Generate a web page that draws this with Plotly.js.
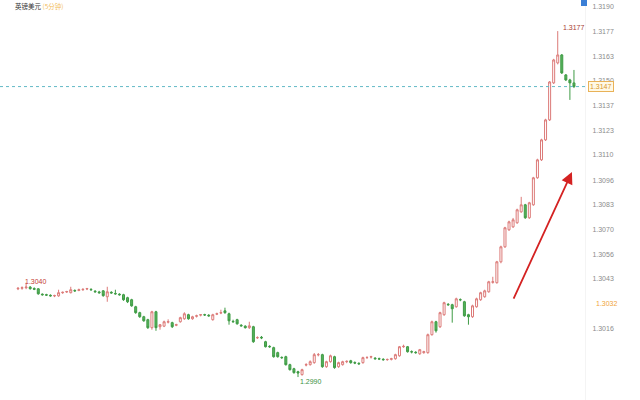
<!DOCTYPE html>
<html>
<head>
<meta charset="utf-8">
<script src="https://cdn.plot.ly/plotly-3.0.1.min.js"></script>
<style>html,body{margin:0;padding:0;background:#fff;}#chart{width:640px;height:400px;}</style>
</head>
<body>
<div id="chart"></div>
<script>
// OHLC values (GBP/USD short-interval candles)
const openVals = [1.30377,1.30380,1.30383,1.30386,1.30378,1.30377,1.30348,1.30345,1.30342,1.30339,
1.30339,1.30356,1.30360,1.30356,1.30368,1.30368,1.30372,1.30376,1.30374,1.30364,
1.30360,1.30366,1.30334,1.30358,1.30352,1.30348,1.30345,1.30329,1.30318,1.30280,
1.30248,1.30226,1.30210,
1.30167,1.30253,1.30172,1.30175,1.30197,1.30194,1.30180,1.30199,1.30215,1.30237,
1.30215,1.30229,1.30235,1.30237,1.30234,1.30210,1.30240,1.30246,1.30258,1.30242,
1.30201,1.30210,1.30180,1.30175,1.30167,1.30172,1.30113,1.30115,1.30091,1.30066,
1.30059,1.30032,1.30006,1.30010,1.29967,1.29945,1.29929,1.29913,
1.29965,1.29967,1.29978,1.30021,1.30021,1.29956,1.29983,1.30010,1.29956,1.29967,
1.29983,1.29988,1.29978,1.29974,1.29978,1.30005,1.30008,1.30002,1.29999,1.29996,
1.29994,1.29996,1.29999,1.30015,1.30064,1.30064,1.30037,1.30034,1.30026,1.30032,
1.30032,1.30129,1.30199,1.30172,1.30237,1.30293,1.30291,1.30280,1.30318,1.30307,
1.30237,1.30226,1.30280,1.30318,1.30334,1.30361,1.30412,1.30410,1.30523,1.30604,
1.30696,1.30712,1.30734,1.30793,1.30831,1.30761,1.30831,1.30977,1.31074,1.31182,
1.31290,1.31490,1.31598,1.31641,1.31533,1.31506,1.31490];

const highVals = [1.30385,1.30390,1.30410,1.30392,1.30385,1.30380,1.30352,1.30350,1.30347,1.30345,
1.30372,1.30362,1.30366,1.30388,1.30374,1.30378,1.30380,1.30382,1.30380,1.30370,
1.30366,1.30370,1.30388,1.30364,1.30372,1.30353,1.30350,1.30334,1.30323,1.30285,
1.30253,1.30231,1.30215,
1.30258,1.30258,1.30186,1.30205,1.30212,1.30199,1.30188,1.30226,1.30250,1.30242,
1.30231,1.30237,1.30240,1.30242,1.30240,1.30242,1.30248,1.30264,1.30275,1.30248,
1.30210,1.30215,1.30186,1.30180,1.30199,1.30177,1.30120,1.30122,1.30096,1.30072,
1.30064,1.30037,1.30012,1.30015,1.29972,1.29950,1.29934,1.29945,
1.29975,1.29990,1.30030,1.30030,1.30026,1.29988,1.30021,1.30015,1.29983,1.29988,
1.29990,1.29993,1.29985,1.29980,1.30010,1.30012,1.30015,1.30008,1.30005,1.30002,
1.30000,1.30004,1.30026,1.30068,1.30075,1.30068,1.30044,1.30040,1.30052,1.30042,
1.30135,1.30205,1.30204,1.30253,1.30307,1.30300,1.30296,1.30329,1.30325,1.30312,
1.30242,1.30291,1.30329,1.30361,1.30372,1.30420,1.30442,1.30528,1.30610,1.30712,
1.30745,1.30760,1.30810,1.30874,1.30836,1.30847,1.30982,1.31080,1.31188,1.31296,
1.31500,1.31620,1.31770,1.31646,1.31538,1.31512,1.31560];

const lowVals = [1.30370,1.30372,1.30375,1.30372,1.30370,1.30345,1.30340,1.30338,1.30335,1.30332,
1.30334,1.30350,1.30355,1.30352,1.30360,1.30364,1.30366,1.30370,1.30366,1.30356,
1.30350,1.30334,1.30307,1.30350,1.30345,1.30340,1.30312,1.30300,1.30280,1.30242,
1.30220,1.30199,1.30160,
1.30156,1.30150,1.30156,1.30170,1.30190,1.30165,1.30175,1.30194,1.30210,1.30210,
1.30210,1.30222,1.30228,1.30230,1.30226,1.30205,1.30235,1.30240,1.30242,1.30183,
1.30194,1.30183,1.30172,1.30162,1.30160,1.30085,1.30106,1.30105,1.30060,1.30058,
1.30005,1.30005,1.29998,1.29962,1.29935,1.29918,1.29900,1.29908,
1.29958,1.29962,1.29972,1.30012,1.29950,1.29950,1.29978,1.29945,1.29950,1.29962,
1.29975,1.29972,1.29970,1.29965,1.29972,1.29998,1.30000,1.29994,1.29992,1.29988,
1.29988,1.29990,1.29994,1.30010,1.30058,1.30032,1.30028,1.30026,1.30020,1.30026,
1.30026,1.30124,1.30140,1.30165,1.30231,1.30285,1.30194,1.30275,1.30310,1.30226,
1.30183,1.30220,1.30275,1.30312,1.30329,1.30356,1.30405,1.30405,1.30515,1.30598,
1.30690,1.30706,1.30728,1.30788,1.30755,1.30755,1.30826,1.30972,1.31068,1.31176,
1.31284,1.31484,1.31590,1.31538,1.31500,1.31398,1.31462];

const closeVals = [1.30380,1.30383,1.30386,1.30378,1.30375,1.30350,1.30345,1.30343,1.30339,1.30340,
1.30356,1.30358,1.30362,1.30372,1.30366,1.30372,1.30374,1.30378,1.30372,1.30361,
1.30356,1.30340,1.30361,1.30355,1.30350,1.30345,1.30318,1.30307,1.30285,1.30248,
1.30226,1.30204,1.30167,
1.30253,1.30167,1.30183,1.30199,1.30199,1.30172,1.30183,1.30221,1.30242,1.30215,
1.30226,1.30231,1.30237,1.30236,1.30231,1.30237,1.30242,1.30248,1.30248,1.30204,
1.30199,1.30188,1.30177,1.30167,1.30177,1.30091,1.30113,1.30112,1.30064,1.30064,
1.30010,1.30010,1.30005,1.29967,1.29940,1.29924,1.29922,1.29940,
1.29967,1.29983,1.30021,1.30021,1.29956,1.29983,1.30015,1.29951,1.29978,1.29983,
1.29985,1.29978,1.29976,1.29972,1.30005,1.30006,1.30010,1.29999,1.29998,1.29994,
1.29995,1.29999,1.30021,1.30064,1.30066,1.30037,1.30036,1.30032,1.30048,1.30037,
1.30129,1.30199,1.30150,1.30248,1.30302,1.30291,1.30269,1.30323,1.30318,1.30231,
1.30226,1.30285,1.30323,1.30356,1.30366,1.30415,1.30415,1.30523,1.30604,1.30707,
1.30739,1.30750,1.30804,1.30831,1.30761,1.30842,1.30977,1.31074,1.31182,1.31290,
1.31495,1.31614,1.31641,1.31544,1.31506,1.31490,1.31470];

// y-axis tick labels shown on the right side
const tickValues = [1.3190,1.3177,1.3163,1.3150,1.3137,1.3123,1.3110,1.3096,1.3083,1.3070,1.3056,1.3043,1.3016];
const tickLabels = ['1.3190','1.3177','1.3163','1.3150','1.3137','1.3123','1.3110','1.3096','1.3083','1.3070','1.3056','1.3043','1.3016'];

// marked values
const lastPrice = 1.3147;
const lastPriceLabel = '1.3147';
const markPriceLabel = '1.3032';
const markPriceLevel = 1.30295;
const highLabel = '1.3177';
const lowLabel = '1.2990';
const startLabel = '1.3040';
const chartTitle = '英镑美元';
const chartSubtitle = '(5分钟)';

const xIdx = openVals.map((_, i) => i);
const hiIdx = highVals.indexOf(Math.max(...highVals));
const loIdx = lowVals.indexOf(Math.min(...lowVals));

const trace = {
  type: 'candlestick',
  x: xIdx,
  open: openVals, high: highVals, low: lowVals, close: closeVals,
  increasing: { line: { color: '#dc7a78', width: 1 }, fillcolor: '#ffffff' },
  decreasing: { line: { color: '#3f9b45', width: 1 }, fillcolor: '#56b35c' },
  whiskerwidth: 0,
  hoverinfo: 'skip'
};

const layout = {
  width: 640, height: 400,
  margin: { l: 0, r: 55, t: 0, b: 0 },
  paper_bgcolor: '#ffffff', plot_bgcolor: '#ffffff',
  showlegend: false,
  title: {
    text: chartTitle + ' <span style="color:#f2bd5c">' + chartSubtitle + '</span>',
    xref: 'container', yref: 'container', x: 15 / 640, y: 1 - 7 / 400,
    xanchor: 'left', yanchor: 'middle',
    font: { family: 'Noto Sans CJK SC, sans-serif', size: 6.5, color: '#333333' }
  },
  xaxis: {
    range: [-4.435, 139.72], visible: false,
    rangeslider: { visible: false }, fixedrange: true
  },
  yaxis: {
    side: 'right', range: [1.29776, 1.31938],
    tickvals: tickValues, ticktext: tickLabels,
    showgrid: false, zeroline: false,
    showline: true, linecolor: '#f4f4f4', linewidth: 1,
    ticks: '', ticklabelstandoff: 5,
    tickfont: { family: 'Liberation Sans, Arial, sans-serif', size: 7, color: '#8c8c8c' },
    fixedrange: true
  },
  shapes: [
    { type: 'line', xref: 'paper', x0: 0, x1: 1, yref: 'y', y0: lastPrice, y1: lastPrice,
      line: { color: '#62b9c6', width: 1, dash: 'dot' } },
    { type: 'rect', xref: 'paper', x0: 581 / 585, x1: 587 / 585, yref: 'paper', y0: 1 - 6 / 400, y1: 1,
      fillcolor: '#3b7fd6', line: { width: 0 } }
  ],
  annotations: [
    { xref: 'paper', x: 1.005, xanchor: 'left', yref: 'y', y: lastPrice, yanchor: 'middle',
      text: lastPriceLabel, showarrow: false,
      font: { family: 'Liberation Sans, Arial, sans-serif', size: 7, color: '#d9962b' },
      bgcolor: '#fff9e6', bordercolor: '#e9b258', borderwidth: 1, borderpad: 1 },
    { xref: 'paper', x: 594 / 585, xanchor: 'left', yref: 'y', y: markPriceLevel, yanchor: 'middle',
      text: markPriceLabel, showarrow: false,
      font: { family: 'Liberation Sans, Arial, sans-serif', size: 7, color: '#f0a43a' } },
    { x: hiIdx + 0.8, xanchor: 'left', y: 1.31787, yanchor: 'middle', text: highLabel, showarrow: false,
      font: { family: 'Liberation Sans, Arial, sans-serif', size: 7, color: '#a83a32' } },
    { x: loIdx, xanchor: 'left', y: 1.29876, yanchor: 'middle', text: lowLabel, showarrow: false,
      font: { family: 'Liberation Sans, Arial, sans-serif', size: 7, color: '#3c8f45' } },
    { x: 1.2, xanchor: 'left', y: 1.30418, yanchor: 'middle', text: startLabel, showarrow: false,
      font: { family: 'Liberation Sans, Arial, sans-serif', size: 7, color: '#c43c34' } },
    { x: 136.5, y: 1.31008, ax: -59, ay: 128, axref: 'pixel', ayref: 'pixel', text: '',
      showarrow: true, arrowhead: 2, arrowsize: 1.3, arrowwidth: 1.8, arrowcolor: '#d42222', standoff: 0 }
  ]
};

Plotly.newPlot('chart', [trace], layout, { displayModeBar: false, staticPlot: true });
</script>
</body>
</html>
